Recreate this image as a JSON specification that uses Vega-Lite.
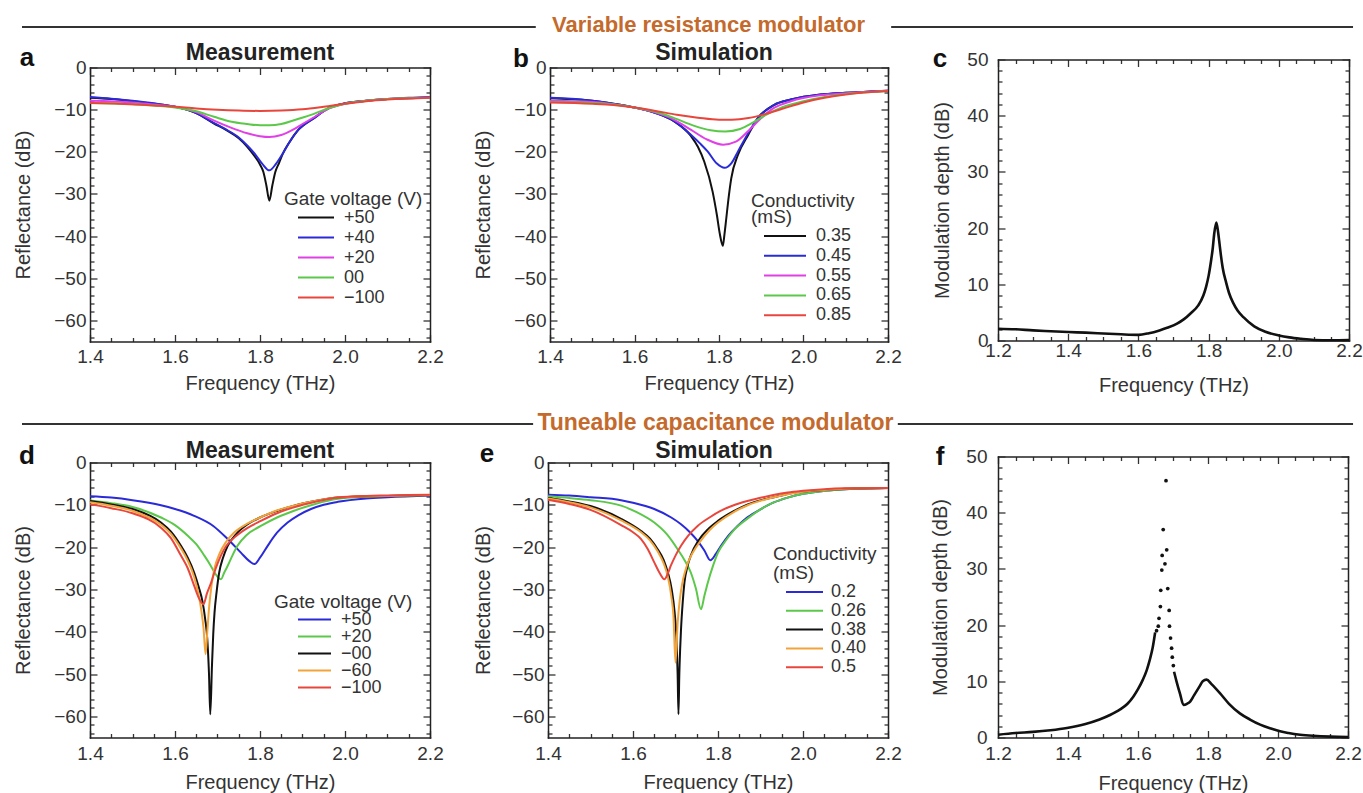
{
  "$schema": "https://vega.github.io/schema/vega-lite/v6.json",
  "padding": {"left": 13, "top": 7, "right": 0, "bottom": 0},
  "autosize": {"type": "pad"},
  "background": "white",
  "datasets": {
    "a": [
      {"f":1.4,"R":-7.2,"s":"+50"},{"f":1.45,"R":-7.5,"s":"+50"},{"f":1.5,"R":-8.0,"s":"+50"},{"f":1.55,"R":-8.6,"s":"+50"},{"f":1.6,"R":-9.3,"s":"+50"},{"f":1.65,"R":-10.8,"s":"+50"},{"f":1.692,"R":-13.3,"s":"+50"},{"f":1.72,"R":-14.8,"s":"+50"},{"f":1.75,"R":-16.8,"s":"+50"},{"f":1.77,"R":-18.8,"s":"+50"},{"f":1.787,"R":-21.0,"s":"+50"},{"f":1.8,"R":-23.0,"s":"+50"},{"f":1.808,"R":-24.8,"s":"+50"},{"f":1.815,"R":-28.0,"s":"+50"},{"f":1.822,"R":-31.6,"s":"+50"},{"f":1.829,"R":-28.0,"s":"+50"},{"f":1.836,"R":-24.8,"s":"+50"},{"f":1.845,"R":-22.6,"s":"+50"},{"f":1.853,"R":-20.6,"s":"+50"},{"f":1.87,"R":-17.6,"s":"+50"},{"f":1.89,"R":-14.8,"s":"+50"},{"f":1.927,"R":-12.0,"s":"+50"},{"f":1.963,"R":-9.6,"s":"+50"},{"f":2.0,"R":-8.5,"s":"+50"},{"f":2.05,"R":-7.9,"s":"+50"},{"f":2.1,"R":-7.5,"s":"+50"},{"f":2.15,"R":-7.3,"s":"+50"},{"f":2.2,"R":-7.2,"s":"+50"},
      {"f":1.4,"R":-7.0,"s":"+40"},{"f":1.45,"R":-7.4,"s":"+40"},{"f":1.5,"R":-7.9,"s":"+40"},{"f":1.55,"R":-8.5,"s":"+40"},{"f":1.6,"R":-9.3,"s":"+40"},{"f":1.65,"R":-10.8,"s":"+40"},{"f":1.692,"R":-13.2,"s":"+40"},{"f":1.72,"R":-14.7,"s":"+40"},{"f":1.75,"R":-16.6,"s":"+40"},{"f":1.77,"R":-18.5,"s":"+40"},{"f":1.787,"R":-20.4,"s":"+40"},{"f":1.805,"R":-22.8,"s":"+40"},{"f":1.822,"R":-24.4,"s":"+40"},{"f":1.838,"R":-22.8,"s":"+40"},{"f":1.853,"R":-20.5,"s":"+40"},{"f":1.87,"R":-17.6,"s":"+40"},{"f":1.89,"R":-14.8,"s":"+40"},{"f":1.927,"R":-12.0,"s":"+40"},{"f":1.963,"R":-9.6,"s":"+40"},{"f":2.0,"R":-8.5,"s":"+40"},{"f":2.05,"R":-7.9,"s":"+40"},{"f":2.1,"R":-7.5,"s":"+40"},{"f":2.15,"R":-7.2,"s":"+40"},{"f":2.2,"R":-7.0,"s":"+40"},
      {"f":1.4,"R":-7.9,"s":"+20"},{"f":1.5,"R":-8.3,"s":"+20"},{"f":1.55,"R":-8.8,"s":"+20"},{"f":1.6,"R":-9.3,"s":"+20"},{"f":1.65,"R":-10.6,"s":"+20"},{"f":1.692,"R":-12.6,"s":"+20"},{"f":1.73,"R":-14.2,"s":"+20"},{"f":1.77,"R":-15.6,"s":"+20"},{"f":1.8,"R":-16.3,"s":"+20"},{"f":1.822,"R":-16.5,"s":"+20"},{"f":1.85,"R":-16.0,"s":"+20"},{"f":1.88,"R":-14.6,"s":"+20"},{"f":1.9,"R":-13.4,"s":"+20"},{"f":1.927,"R":-11.8,"s":"+20"},{"f":1.963,"R":-9.7,"s":"+20"},{"f":2.0,"R":-8.6,"s":"+20"},{"f":2.05,"R":-7.9,"s":"+20"},{"f":2.1,"R":-7.5,"s":"+20"},{"f":2.2,"R":-7.2,"s":"+20"},
      {"f":1.4,"R":-8.4,"s":"00"},{"f":1.5,"R":-8.7,"s":"00"},{"f":1.55,"R":-9.0,"s":"00"},{"f":1.6,"R":-9.5,"s":"00"},{"f":1.65,"R":-10.4,"s":"00"},{"f":1.692,"R":-11.7,"s":"00"},{"f":1.73,"R":-12.8,"s":"00"},{"f":1.77,"R":-13.4,"s":"00"},{"f":1.8,"R":-13.7,"s":"00"},{"f":1.822,"R":-13.7,"s":"00"},{"f":1.85,"R":-13.4,"s":"00"},{"f":1.88,"R":-12.5,"s":"00"},{"f":1.927,"R":-11.0,"s":"00"},{"f":1.963,"R":-9.6,"s":"00"},{"f":2.0,"R":-8.6,"s":"00"},{"f":2.05,"R":-7.9,"s":"00"},{"f":2.1,"R":-7.5,"s":"00"},{"f":2.2,"R":-7.2,"s":"00"},
      {"f":1.4,"R":-8.4,"s":"−100"},{"f":1.5,"R":-8.7,"s":"−100"},{"f":1.55,"R":-9.0,"s":"−100"},{"f":1.6,"R":-9.3,"s":"−100"},{"f":1.65,"R":-9.7,"s":"−100"},{"f":1.7,"R":-10.0,"s":"−100"},{"f":1.75,"R":-10.2,"s":"−100"},{"f":1.8,"R":-10.3,"s":"−100"},{"f":1.85,"R":-10.2,"s":"−100"},{"f":1.9,"R":-9.9,"s":"−100"},{"f":1.95,"R":-9.3,"s":"−100"},{"f":2.0,"R":-8.6,"s":"−100"},{"f":2.05,"R":-8.0,"s":"−100"},{"f":2.1,"R":-7.6,"s":"−100"},{"f":2.2,"R":-7.2,"s":"−100"}
    ],
    "b": [
      {"f":1.4,"R":-7.3,"s":"0.35"},{"f":1.45,"R":-7.5,"s":"0.35"},{"f":1.5,"R":-7.9,"s":"0.35"},{"f":1.55,"R":-8.6,"s":"0.35"},{"f":1.6,"R":-9.5,"s":"0.35"},{"f":1.65,"R":-10.8,"s":"0.35"},{"f":1.694,"R":-12.8,"s":"0.35"},{"f":1.734,"R":-16.3,"s":"0.35"},{"f":1.75,"R":-18.8,"s":"0.35"},{"f":1.765,"R":-22.3,"s":"0.35"},{"f":1.785,"R":-29.5,"s":"0.35"},{"f":1.795,"R":-35.0,"s":"0.35"},{"f":1.802,"R":-39.5,"s":"0.35"},{"f":1.809,"R":-42.3,"s":"0.35"},{"f":1.813,"R":-39.5,"s":"0.35"},{"f":1.817,"R":-36.0,"s":"0.35"},{"f":1.822,"R":-31.5,"s":"0.35"},{"f":1.829,"R":-26.3,"s":"0.35"},{"f":1.845,"R":-20.7,"s":"0.35"},{"f":1.869,"R":-16.0,"s":"0.35"},{"f":1.892,"R":-12.0,"s":"0.35"},{"f":1.93,"R":-8.9,"s":"0.35"},{"f":1.97,"R":-7.6,"s":"0.35"},{"f":2.04,"R":-6.4,"s":"0.35"},{"f":2.1,"R":-6.0,"s":"0.35"},{"f":2.2,"R":-5.5,"s":"0.35"},
      {"f":1.4,"R":-7.2,"s":"0.45"},{"f":1.45,"R":-7.4,"s":"0.45"},{"f":1.5,"R":-7.9,"s":"0.45"},{"f":1.55,"R":-8.6,"s":"0.45"},{"f":1.6,"R":-9.5,"s":"0.45"},{"f":1.65,"R":-10.8,"s":"0.45"},{"f":1.694,"R":-12.7,"s":"0.45"},{"f":1.734,"R":-16.0,"s":"0.45"},{"f":1.755,"R":-18.0,"s":"0.45"},{"f":1.773,"R":-19.9,"s":"0.45"},{"f":1.795,"R":-22.8,"s":"0.45"},{"f":1.813,"R":-23.8,"s":"0.45"},{"f":1.83,"R":-22.6,"s":"0.45"},{"f":1.845,"R":-19.9,"s":"0.45"},{"f":1.869,"R":-15.6,"s":"0.45"},{"f":1.892,"R":-12.0,"s":"0.45"},{"f":1.93,"R":-8.9,"s":"0.45"},{"f":1.97,"R":-7.6,"s":"0.45"},{"f":2.04,"R":-6.4,"s":"0.45"},{"f":2.1,"R":-6.0,"s":"0.45"},{"f":2.2,"R":-5.5,"s":"0.45"},
      {"f":1.4,"R":-7.9,"s":"0.55"},{"f":1.5,"R":-8.2,"s":"0.55"},{"f":1.55,"R":-8.7,"s":"0.55"},{"f":1.6,"R":-9.5,"s":"0.55"},{"f":1.65,"R":-10.7,"s":"0.55"},{"f":1.694,"R":-12.4,"s":"0.55"},{"f":1.734,"R":-14.8,"s":"0.55"},{"f":1.77,"R":-17.0,"s":"0.55"},{"f":1.81,"R":-18.3,"s":"0.55"},{"f":1.84,"R":-17.6,"s":"0.55"},{"f":1.87,"R":-15.0,"s":"0.55"},{"f":1.9,"R":-12.0,"s":"0.55"},{"f":1.93,"R":-9.6,"s":"0.55"},{"f":1.97,"R":-8.0,"s":"0.55"},{"f":2.04,"R":-6.6,"s":"0.55"},{"f":2.1,"R":-6.1,"s":"0.55"},{"f":2.2,"R":-5.5,"s":"0.55"},
      {"f":1.4,"R":-8.2,"s":"0.65"},{"f":1.5,"R":-8.4,"s":"0.65"},{"f":1.55,"R":-8.8,"s":"0.65"},{"f":1.6,"R":-9.5,"s":"0.65"},{"f":1.65,"R":-10.5,"s":"0.65"},{"f":1.694,"R":-12.0,"s":"0.65"},{"f":1.74,"R":-13.8,"s":"0.65"},{"f":1.78,"R":-14.9,"s":"0.65"},{"f":1.815,"R":-15.2,"s":"0.65"},{"f":1.85,"R":-14.6,"s":"0.65"},{"f":1.88,"R":-13.1,"s":"0.65"},{"f":1.91,"R":-11.3,"s":"0.65"},{"f":1.95,"R":-9.4,"s":"0.65"},{"f":2.0,"R":-8.0,"s":"0.65"},{"f":2.05,"R":-7.0,"s":"0.65"},{"f":2.1,"R":-6.3,"s":"0.65"},{"f":2.2,"R":-5.6,"s":"0.65"},
      {"f":1.4,"R":-8.3,"s":"0.85"},{"f":1.5,"R":-8.6,"s":"0.85"},{"f":1.55,"R":-8.9,"s":"0.85"},{"f":1.6,"R":-9.5,"s":"0.85"},{"f":1.65,"R":-10.3,"s":"0.85"},{"f":1.7,"R":-11.2,"s":"0.85"},{"f":1.75,"R":-11.9,"s":"0.85"},{"f":1.8,"R":-12.4,"s":"0.85"},{"f":1.83,"R":-12.4,"s":"0.85"},{"f":1.87,"R":-12.0,"s":"0.85"},{"f":1.9,"R":-11.3,"s":"0.85"},{"f":1.95,"R":-9.8,"s":"0.85"},{"f":2.0,"R":-8.3,"s":"0.85"},{"f":2.05,"R":-7.2,"s":"0.85"},{"f":2.1,"R":-6.4,"s":"0.85"},{"f":2.2,"R":-5.6,"s":"0.85"}
    ],
    "c": [
      {"f":1.2,"M":2.1},{"f":1.25,"M":2.0},{"f":1.3,"M":1.8},{"f":1.35,"M":1.65},{"f":1.4,"M":1.5},{"f":1.45,"M":1.4},{"f":1.5,"M":1.25},{"f":1.55,"M":1.1},{"f":1.6,"M":1.0},{"f":1.63,"M":1.3},{"f":1.66,"M":1.8},{"f":1.684,"M":2.3},{"f":1.71,"M":3.0},{"f":1.73,"M":3.8},{"f":1.75,"M":4.9},{"f":1.77,"M":6.2},{"f":1.785,"M":8.0},{"f":1.793,"M":9.6},{"f":1.8,"M":11.5},{"f":1.807,"M":14.2},{"f":1.812,"M":16.5},{"f":1.816,"M":19.0},{"f":1.822,"M":21.0},{"f":1.827,"M":19.3},{"f":1.83,"M":17.8},{"f":1.835,"M":15.2},{"f":1.84,"M":13.0},{"f":1.85,"M":10.3},{"f":1.858,"M":8.5},{"f":1.87,"M":6.7},{"f":1.883,"M":5.3},{"f":1.9,"M":4.1},{"f":1.93,"M":2.5},{"f":1.96,"M":1.6},{"f":2.0,"M":0.9},{"f":2.03,"M":0.55},{"f":2.063,"M":0.3},{"f":2.1,"M":0.1},{"f":2.15,"M":0.05},{"f":2.2,"M":0.1}
    ],
    "d": [
      {"f":1.4,"R":-8.0,"s":"+50"},{"f":1.45,"R":-8.3,"s":"+50"},{"f":1.5,"R":-8.9,"s":"+50"},{"f":1.567,"R":-10.1,"s":"+50"},{"f":1.6,"R":-11.0,"s":"+50"},{"f":1.645,"R":-12.6,"s":"+50"},{"f":1.69,"R":-15.0,"s":"+50"},{"f":1.724,"R":-18.1,"s":"+50"},{"f":1.755,"R":-21.3,"s":"+50"},{"f":1.775,"R":-23.3,"s":"+50"},{"f":1.787,"R":-24.0,"s":"+50"},{"f":1.8,"R":-22.5,"s":"+50"},{"f":1.818,"R":-19.7,"s":"+50"},{"f":1.84,"R":-16.6,"s":"+50"},{"f":1.865,"R":-14.2,"s":"+50"},{"f":1.89,"R":-12.5,"s":"+50"},{"f":1.92,"R":-11.0,"s":"+50"},{"f":1.95,"R":-10.0,"s":"+50"},{"f":1.983,"R":-9.3,"s":"+50"},{"f":2.05,"R":-8.5,"s":"+50"},{"f":2.1,"R":-8.2,"s":"+50"},{"f":2.2,"R":-7.8,"s":"+50"},
      {"f":1.4,"R":-9.0,"s":"+20"},{"f":1.45,"R":-9.6,"s":"+20"},{"f":1.5,"R":-10.5,"s":"+20"},{"f":1.567,"R":-13.0,"s":"+20"},{"f":1.6,"R":-14.8,"s":"+20"},{"f":1.63,"R":-17.3,"s":"+20"},{"f":1.65,"R":-19.3,"s":"+20"},{"f":1.669,"R":-22.0,"s":"+20"},{"f":1.683,"R":-24.2,"s":"+20"},{"f":1.693,"R":-26.0,"s":"+20"},{"f":1.708,"R":-27.6,"s":"+20"},{"f":1.716,"R":-26.0,"s":"+20"},{"f":1.724,"R":-24.4,"s":"+20"},{"f":1.735,"R":-22.0,"s":"+20"},{"f":1.747,"R":-19.7,"s":"+20"},{"f":1.77,"R":-17.0,"s":"+20"},{"f":1.802,"R":-15.0,"s":"+20"},{"f":1.84,"R":-13.0,"s":"+20"},{"f":1.88,"R":-11.4,"s":"+20"},{"f":1.93,"R":-9.8,"s":"+20"},{"f":1.983,"R":-8.6,"s":"+20"},{"f":2.05,"R":-8.1,"s":"+20"},{"f":2.1,"R":-7.9,"s":"+20"},{"f":2.2,"R":-7.7,"s":"+20"},
      {"f":1.4,"R":-9.1,"s":"−00"},{"f":1.45,"R":-9.9,"s":"−00"},{"f":1.5,"R":-11.0,"s":"−00"},{"f":1.567,"R":-14.2,"s":"−00"},{"f":1.59,"R":-16.3,"s":"−00"},{"f":1.614,"R":-19.7,"s":"−00"},{"f":1.63,"R":-22.5,"s":"−00"},{"f":1.645,"R":-26.0,"s":"−00"},{"f":1.656,"R":-29.5,"s":"−00"},{"f":1.665,"R":-33.0,"s":"−00"},{"f":1.671,"R":-37.0,"s":"−00"},{"f":1.676,"R":-41.8,"s":"−00"},{"f":1.68,"R":-50.0,"s":"−00"},{"f":1.683,"R":-59.5,"s":"−00"},{"f":1.687,"R":-48.0,"s":"−00"},{"f":1.69,"R":-40.5,"s":"−00"},{"f":1.693,"R":-35.5,"s":"−00"},{"f":1.698,"R":-30.5,"s":"−00"},{"f":1.704,"R":-26.0,"s":"−00"},{"f":1.713,"R":-22.5,"s":"−00"},{"f":1.724,"R":-19.7,"s":"−00"},{"f":1.745,"R":-16.8,"s":"−00"},{"f":1.771,"R":-14.6,"s":"−00"},{"f":1.8,"R":-13.0,"s":"−00"},{"f":1.841,"R":-11.4,"s":"−00"},{"f":1.88,"R":-10.2,"s":"−00"},{"f":1.92,"R":-9.3,"s":"−00"},{"f":1.983,"R":-8.3,"s":"−00"},{"f":2.05,"R":-8.0,"s":"−00"},{"f":2.1,"R":-7.9,"s":"−00"},{"f":2.2,"R":-7.7,"s":"−00"},
      {"f":1.4,"R":-9.4,"s":"−60"},{"f":1.45,"R":-10.2,"s":"−60"},{"f":1.5,"R":-11.4,"s":"−60"},{"f":1.567,"R":-14.7,"s":"−60"},{"f":1.59,"R":-16.8,"s":"−60"},{"f":1.614,"R":-20.3,"s":"−60"},{"f":1.63,"R":-23.2,"s":"−60"},{"f":1.645,"R":-27.0,"s":"−60"},{"f":1.655,"R":-31.0,"s":"−60"},{"f":1.662,"R":-35.0,"s":"−60"},{"f":1.667,"R":-39.0,"s":"−60"},{"f":1.672,"R":-45.3,"s":"−60"},{"f":1.676,"R":-40.0,"s":"−60"},{"f":1.68,"R":-34.5,"s":"−60"},{"f":1.686,"R":-29.0,"s":"−60"},{"f":1.693,"R":-25.0,"s":"−60"},{"f":1.705,"R":-21.5,"s":"−60"},{"f":1.72,"R":-18.8,"s":"−60"},{"f":1.74,"R":-16.5,"s":"−60"},{"f":1.771,"R":-14.4,"s":"−60"},{"f":1.8,"R":-13.0,"s":"−60"},{"f":1.841,"R":-11.3,"s":"−60"},{"f":1.88,"R":-10.2,"s":"−60"},{"f":1.92,"R":-9.3,"s":"−60"},{"f":1.983,"R":-8.3,"s":"−60"},{"f":2.05,"R":-8.0,"s":"−60"},{"f":2.1,"R":-7.9,"s":"−60"},{"f":2.2,"R":-7.7,"s":"−60"},
      {"f":1.4,"R":-9.9,"s":"−100"},{"f":1.45,"R":-10.8,"s":"−100"},{"f":1.5,"R":-12.0,"s":"−100"},{"f":1.567,"R":-15.4,"s":"−100"},{"f":1.59,"R":-17.8,"s":"−100"},{"f":1.614,"R":-22.0,"s":"−100"},{"f":1.63,"R":-25.0,"s":"−100"},{"f":1.645,"R":-29.1,"s":"−100"},{"f":1.655,"R":-31.8,"s":"−100"},{"f":1.667,"R":-33.5,"s":"−100"},{"f":1.675,"R":-31.0,"s":"−100"},{"f":1.685,"R":-28.4,"s":"−100"},{"f":1.696,"R":-25.0,"s":"−100"},{"f":1.708,"R":-22.0,"s":"−100"},{"f":1.72,"R":-19.8,"s":"−100"},{"f":1.74,"R":-17.7,"s":"−100"},{"f":1.77,"R":-15.5,"s":"−100"},{"f":1.802,"R":-13.8,"s":"−100"},{"f":1.84,"R":-12.0,"s":"−100"},{"f":1.88,"R":-10.6,"s":"−100"},{"f":1.93,"R":-9.3,"s":"−100"},{"f":1.983,"R":-8.3,"s":"−100"},{"f":2.05,"R":-7.9,"s":"−100"},{"f":2.1,"R":-7.8,"s":"−100"},{"f":2.2,"R":-7.6,"s":"−100"}
    ],
    "e": [
      {"f":1.4,"R":-7.6,"s":"0.2"},{"f":1.45,"R":-7.8,"s":"0.2"},{"f":1.5,"R":-8.2,"s":"0.2"},{"f":1.572,"R":-8.9,"s":"0.2"},{"f":1.6,"R":-9.5,"s":"0.2"},{"f":1.65,"R":-11.0,"s":"0.2"},{"f":1.69,"R":-13.0,"s":"0.2"},{"f":1.713,"R":-14.6,"s":"0.2"},{"f":1.735,"R":-16.6,"s":"0.2"},{"f":1.752,"R":-18.5,"s":"0.2"},{"f":1.768,"R":-20.8,"s":"0.2"},{"f":1.782,"R":-23.1,"s":"0.2"},{"f":1.795,"R":-21.6,"s":"0.2"},{"f":1.807,"R":-19.7,"s":"0.2"},{"f":1.825,"R":-17.2,"s":"0.2"},{"f":1.846,"R":-15.0,"s":"0.2"},{"f":1.87,"R":-12.9,"s":"0.2"},{"f":1.901,"R":-11.0,"s":"0.2"},{"f":1.93,"R":-9.5,"s":"0.2"},{"f":1.964,"R":-8.3,"s":"0.2"},{"f":2.0,"R":-7.4,"s":"0.2"},{"f":2.05,"R":-6.7,"s":"0.2"},{"f":2.1,"R":-6.3,"s":"0.2"},{"f":2.2,"R":-6.0,"s":"0.2"},
      {"f":1.4,"R":-8.0,"s":"0.26"},{"f":1.45,"R":-8.4,"s":"0.26"},{"f":1.5,"R":-8.9,"s":"0.26"},{"f":1.572,"R":-10.2,"s":"0.26"},{"f":1.61,"R":-11.8,"s":"0.26"},{"f":1.65,"R":-14.2,"s":"0.26"},{"f":1.68,"R":-17.0,"s":"0.26"},{"f":1.705,"R":-20.5,"s":"0.26"},{"f":1.722,"R":-23.2,"s":"0.26"},{"f":1.736,"R":-26.0,"s":"0.26"},{"f":1.748,"R":-29.8,"s":"0.26"},{"f":1.76,"R":-34.7,"s":"0.26"},{"f":1.768,"R":-31.5,"s":"0.26"},{"f":1.776,"R":-28.4,"s":"0.26"},{"f":1.788,"R":-24.5,"s":"0.26"},{"f":1.8,"R":-21.3,"s":"0.26"},{"f":1.82,"R":-18.2,"s":"0.26"},{"f":1.839,"R":-15.8,"s":"0.26"},{"f":1.87,"R":-13.2,"s":"0.26"},{"f":1.901,"R":-11.0,"s":"0.26"},{"f":1.93,"R":-9.5,"s":"0.26"},{"f":1.964,"R":-8.3,"s":"0.26"},{"f":2.0,"R":-7.4,"s":"0.26"},{"f":2.05,"R":-6.7,"s":"0.26"},{"f":2.1,"R":-6.3,"s":"0.26"},{"f":2.2,"R":-6.0,"s":"0.26"},
      {"f":1.4,"R":-8.4,"s":"0.38"},{"f":1.45,"R":-9.2,"s":"0.38"},{"f":1.5,"R":-10.3,"s":"0.38"},{"f":1.572,"R":-13.3,"s":"0.38"},{"f":1.619,"R":-16.2,"s":"0.38"},{"f":1.64,"R":-18.0,"s":"0.38"},{"f":1.658,"R":-20.5,"s":"0.38"},{"f":1.672,"R":-23.0,"s":"0.38"},{"f":1.682,"R":-26.0,"s":"0.38"},{"f":1.691,"R":-30.0,"s":"0.38"},{"f":1.698,"R":-35.5,"s":"0.38"},{"f":1.702,"R":-41.0,"s":"0.38"},{"f":1.705,"R":-50.0,"s":"0.38"},{"f":1.707,"R":-59.5,"s":"0.38"},{"f":1.709,"R":-50.0,"s":"0.38"},{"f":1.711,"R":-44.0,"s":"0.38"},{"f":1.713,"R":-39.4,"s":"0.38"},{"f":1.717,"R":-33.0,"s":"0.38"},{"f":1.721,"R":-28.4,"s":"0.38"},{"f":1.728,"R":-24.6,"s":"0.38"},{"f":1.736,"R":-22.0,"s":"0.38"},{"f":1.755,"R":-18.3,"s":"0.38"},{"f":1.776,"R":-15.8,"s":"0.38"},{"f":1.8,"R":-13.8,"s":"0.38"},{"f":1.839,"R":-11.4,"s":"0.38"},{"f":1.87,"R":-9.9,"s":"0.38"},{"f":1.909,"R":-8.7,"s":"0.38"},{"f":1.95,"R":-7.8,"s":"0.38"},{"f":1.98,"R":-7.1,"s":"0.38"},{"f":2.05,"R":-6.5,"s":"0.38"},{"f":2.1,"R":-6.2,"s":"0.38"},{"f":2.2,"R":-6.0,"s":"0.38"},
      {"f":1.4,"R":-8.5,"s":"0.40"},{"f":1.45,"R":-9.4,"s":"0.40"},{"f":1.5,"R":-10.6,"s":"0.40"},{"f":1.572,"R":-13.7,"s":"0.40"},{"f":1.619,"R":-16.5,"s":"0.40"},{"f":1.64,"R":-18.4,"s":"0.40"},{"f":1.658,"R":-21.0,"s":"0.40"},{"f":1.672,"R":-23.8,"s":"0.40"},{"f":1.682,"R":-27.0,"s":"0.40"},{"f":1.69,"R":-31.5,"s":"0.40"},{"f":1.695,"R":-36.0,"s":"0.40"},{"f":1.7,"R":-47.3,"s":"0.40"},{"f":1.705,"R":-38.0,"s":"0.40"},{"f":1.71,"R":-32.5,"s":"0.40"},{"f":1.716,"R":-28.5,"s":"0.40"},{"f":1.722,"R":-26.0,"s":"0.40"},{"f":1.73,"R":-23.5,"s":"0.40"},{"f":1.74,"R":-21.4,"s":"0.40"},{"f":1.76,"R":-18.4,"s":"0.40"},{"f":1.78,"R":-16.0,"s":"0.40"},{"f":1.8,"R":-14.2,"s":"0.40"},{"f":1.839,"R":-11.6,"s":"0.40"},{"f":1.87,"R":-10.1,"s":"0.40"},{"f":1.909,"R":-8.8,"s":"0.40"},{"f":1.95,"R":-7.8,"s":"0.40"},{"f":1.98,"R":-7.2,"s":"0.40"},{"f":2.05,"R":-6.5,"s":"0.40"},{"f":2.1,"R":-6.2,"s":"0.40"},{"f":2.2,"R":-6.0,"s":"0.40"},
      {"f":1.4,"R":-8.8,"s":"0.5"},{"f":1.45,"R":-9.8,"s":"0.5"},{"f":1.5,"R":-11.2,"s":"0.5"},{"f":1.572,"R":-14.8,"s":"0.5"},{"f":1.6,"R":-16.5,"s":"0.5"},{"f":1.619,"R":-18.1,"s":"0.5"},{"f":1.635,"R":-20.5,"s":"0.5"},{"f":1.65,"R":-23.6,"s":"0.5"},{"f":1.662,"R":-26.0,"s":"0.5"},{"f":1.674,"R":-27.6,"s":"0.5"},{"f":1.682,"R":-26.2,"s":"0.5"},{"f":1.689,"R":-24.4,"s":"0.5"},{"f":1.7,"R":-22.0,"s":"0.5"},{"f":1.713,"R":-19.7,"s":"0.5"},{"f":1.73,"R":-17.3,"s":"0.5"},{"f":1.752,"R":-15.0,"s":"0.5"},{"f":1.78,"R":-13.0,"s":"0.5"},{"f":1.807,"R":-11.4,"s":"0.5"},{"f":1.84,"R":-10.0,"s":"0.5"},{"f":1.886,"R":-8.7,"s":"0.5"},{"f":1.93,"R":-7.7,"s":"0.5"},{"f":1.964,"R":-7.1,"s":"0.5"},{"f":2.0,"R":-6.7,"s":"0.5"},{"f":2.05,"R":-6.3,"s":"0.5"},{"f":2.1,"R":-6.1,"s":"0.5"},{"f":2.2,"R":-6.0,"s":"0.5"}
    ],
    "f_curve": [
      {"f":1.2,"M":0.5,"seg":"L"},{"f":1.25,"M":0.8,"seg":"L"},{"f":1.3,"M":1.0,"seg":"L"},{"f":1.35,"M":1.3,"seg":"L"},{"f":1.397,"M":1.7,"seg":"L"},{"f":1.45,"M":2.4,"seg":"L"},{"f":1.49,"M":3.2,"seg":"L"},{"f":1.52,"M":4.0,"seg":"L"},{"f":1.549,"M":5.0,"seg":"L"},{"f":1.57,"M":6.0,"seg":"L"},{"f":1.587,"M":7.3,"seg":"L"},{"f":1.6,"M":8.6,"seg":"L"},{"f":1.614,"M":10.3,"seg":"L"},{"f":1.625,"M":12.0,"seg":"L"},{"f":1.634,"M":13.9,"seg":"L"},{"f":1.642,"M":16.0,"seg":"L"},{"f":1.649,"M":18.7,"seg":"L"},
      {"f":1.703,"M":11.7,"seg":"R"},{"f":1.71,"M":10.0,"seg":"R"},{"f":1.72,"M":7.8,"seg":"R"},{"f":1.73,"M":5.8,"seg":"R"},{"f":1.74,"M":6.0,"seg":"R"},{"f":1.749,"M":6.4,"seg":"R"},{"f":1.76,"M":7.5,"seg":"R"},{"f":1.775,"M":9.0,"seg":"R"},{"f":1.785,"M":10.0,"seg":"R"},{"f":1.796,"M":10.3,"seg":"R"},{"f":1.81,"M":9.5,"seg":"R"},{"f":1.834,"M":7.9,"seg":"R"},{"f":1.86,"M":6.0,"seg":"R"},{"f":1.891,"M":4.3,"seg":"R"},{"f":1.92,"M":3.2,"seg":"R"},{"f":1.949,"M":2.3,"seg":"R"},{"f":1.98,"M":1.6,"seg":"R"},{"f":2.006,"M":1.1,"seg":"R"},{"f":2.03,"M":0.8,"seg":"R"},{"f":2.063,"M":0.5,"seg":"R"},{"f":2.1,"M":0.3,"seg":"R"},{"f":2.15,"M":0.15,"seg":"R"},{"f":2.2,"M":0.1,"seg":"R"}
    ],
    "f_dots": [
      {"f":1.653,"M":19.0},{"f":1.658,"M":19.8},{"f":1.66,"M":21.2},{"f":1.664,"M":23.3},{"f":1.665,"M":26.2},{"f":1.668,"M":29.8},{"f":1.669,"M":32.4},{"f":1.672,"M":37.0},{"f":1.68,"M":45.7},{"f":1.682,"M":33.4},{"f":1.677,"M":30.9},{"f":1.685,"M":26.5},{"f":1.689,"M":22.6},{"f":1.69,"M":19.8},{"f":1.693,"M":17.7},{"f":1.696,"M":15.9},{"f":1.698,"M":14.3},{"f":1.701,"M":12.8}
    ],
    "blank": []
  },
  "concat": [
    {
      "width": 340, "height": 20,
      "data": {"values": [{"label": "Variable resistance modulator"}]},
      "layer": [
        {"mark": {"type": "rule", "stroke": "#333", "strokeWidth": 2},
         "encoding": {"x": {"datum": 0, "type": "quantitative", "scale": {"domain": [5.109, 30.653], "nice": false, "zero": false}, "axis": null},
                      "x2": {"datum": 38.6},
                      "y": {"datum": 0, "type": "quantitative", "scale": {"domain": [0, 1]}, "axis": null}}},
        {"mark": {"type": "rule", "stroke": "#333", "strokeWidth": 2},
         "encoding": {"x": {"datum": 65.3, "type": "quantitative"}, "x2": {"datum": 100}, "y": {"datum": 0, "type": "quantitative"}}},
        {"mark": {"type": "text", "fontSize": 22, "fontWeight": "bold", "color": "#c46a2c", "baseline": "middle", "align": "center", "dy": -2},
         "encoding": {"x": {"datum": 51.58, "type": "quantitative"}, "y": {"datum": 0, "type": "quantitative"}, "text": {"field": "label"}}}
      ]
    },
    {"width": 348, "height": 20, "data": {"name": "blank"}, "mark": {"type": "point", "opacity": 0}, "encoding": {}},
    {"width": 351, "height": 20, "data": {"name": "blank"}, "mark": {"type": "point", "opacity": 0}, "encoding": {}},
    {
      "width": 340, "height": 282,
      "title": {"text": "Measurement", "offset": -20},
      "layer": [
        {"data": {"name": "a"},
         "mark": {"type": "line", "interpolate": "monotone", "strokeWidth": 2},
         "encoding": {
           "x": {"field": "f", "type": "quantitative", "scale": {"domain": [1.4, 2.2], "nice": false, "zero": false},
                 "axis": {"orient": "bottom", "values": [1.4,1.45,1.5,1.55,1.6,1.65,1.7,1.75,1.8,1.85,1.9,1.95,2.0,2.05,2.1,2.15,2.2], "format": ".1f", "labelExpr": "abs(datum.value*5-round(datum.value*5))<0.001 ? datum.label : ''", "tickSize": {"condition": {"test": "abs(datum.value*5-round(datum.value*5))<0.001", "value": -7}, "value": -4}, "labelPadding": 13, "title": "Frequency (THz)", "titlePadding": 4}},
           "y": {"field": "R", "type": "quantitative", "scale": {"domain": [-65, 0], "nice": false, "zero": false, "range": [282, 8]},
                 "axis": {"orient": "left", "values": [-64,-62,-60,-58,-56,-54,-52,-50,-48,-46,-44,-42,-40,-38,-36,-34,-32,-30,-28,-26,-24,-22,-20,-18,-16,-14,-12,-10,-8,-6,-4,-2,0], "format": "d", "labelExpr": "abs(datum.value%10)<0.001 ? datum.label : ''", "tickSize": {"condition": {"test": "abs(datum.value%10)<0.001", "value": -7}, "value": -4}, "labelPadding": 11, "title": "Reflectance (dB)", "titlePadding": 20}},
           "color": {"field": "s", "type": "nominal",
                     "scale": {"domain": ["+50","+40","+20","00","−100"], "range": ["#111111","#2a2ad8","#e040e6","#5cc84a","#e8463c"]},
                     "legend": {"orient": "none", "legendX": 194, "legendY": 130, "title": "Gate voltage (V)", "symbolSize": 1296, "symbolOffset": 13, "labelOffset": 9, "clipHeight": 18, "rowPadding": 2, "titlePadding": 0}}
         }},
        {"data": {"name": "a"},
         "mark": {"type": "line", "opacity": 0},
         "encoding": {
           "x": {"field": "f", "type": "quantitative", "axis": {"orient": "top", "offset": -8, "values": [1.4,1.45,1.5,1.55,1.6,1.65,1.7,1.75,1.8,1.85,1.9,1.95,2.0,2.05,2.1,2.15,2.2], "labels": false, "title": null, "tickSize": {"condition": {"test": "abs(datum.value*5-round(datum.value*5))<0.001", "value": -7}, "value": -4}}},
           "y": {"field": "R", "type": "quantitative", "axis": {"orient": "right", "values": [-64,-62,-60,-58,-56,-54,-52,-50,-48,-46,-44,-42,-40,-38,-36,-34,-32,-30,-28,-26,-24,-22,-20,-18,-16,-14,-12,-10,-8,-6,-4,-2,0], "labels": false, "title": null, "tickSize": {"condition": {"test": "abs(datum.value%10)<0.001", "value": -7}, "value": -4}}}
         }},
        {"data": {"values": [{"letter": "a"}]},
         "mark": {"type": "text", "fontSize": 26, "fontWeight": "bold", "color": "#111", "align": "center", "baseline": "middle", "dx": -63, "dy": -10},
         "encoding": {"x": {"datum": 1.4, "type": "quantitative", "axis": null}, "y": {"datum": 0, "type": "quantitative", "axis": null}, "text": {"field": "letter"}}}
      ],
      "resolve": {"axis": {"x": "independent", "y": "independent"}}
    },
    {
      "width": 348, "height": 282,
      "title": {"text": "Simulation", "offset": -19},
      "layer": [
        {"data": {"name": "b"},
         "mark": {"type": "line", "interpolate": "monotone", "strokeWidth": 2},
         "encoding": {
           "x": {"field": "f", "type": "quantitative", "scale": {"domain": [1.4, 2.2], "nice": false, "zero": false, "range": [10, 348]},
                 "axis": {"orient": "bottom", "values": [1.4,1.45,1.5,1.55,1.6,1.65,1.7,1.75,1.8,1.85,1.9,1.95,2.0,2.05,2.1,2.15,2.2], "format": ".1f", "labelExpr": "abs(datum.value*5-round(datum.value*5))<0.001 ? datum.label : ''", "tickSize": {"condition": {"test": "abs(datum.value*5-round(datum.value*5))<0.001", "value": -7}, "value": -4}, "labelPadding": 13, "title": "Frequency (THz)", "titlePadding": 4}},
           "y": {"field": "R", "type": "quantitative", "scale": {"domain": [-65, 0], "nice": false, "zero": false, "range": [282, 8]},
                 "axis": {"orient": "left", "offset": -10, "values": [-64,-62,-60,-58,-56,-54,-52,-50,-48,-46,-44,-42,-40,-38,-36,-34,-32,-30,-28,-26,-24,-22,-20,-18,-16,-14,-12,-10,-8,-6,-4,-2,0], "format": "d", "labelExpr": "abs(datum.value%10)<0.001 ? datum.label : ''", "tickSize": {"condition": {"test": "abs(datum.value%10)<0.001", "value": -7}, "value": -4}, "labelPadding": 11, "title": "Reflectance (dB)", "titlePadding": 20}},
           "color": {"field": "s", "type": "nominal",
                     "scale": {"domain": ["0.35","0.45","0.55","0.65","0.85"], "range": ["#111111","#2a2ad8","#e040e6","#5cc84a","#e8463c"]},
                     "legend": {"orient": "none", "legendX": 211, "legendY": 132, "title": ["Conductivity", "(mS)"], "titleLineHeight": 16, "symbolSize": 1764, "symbolOffset": 12, "labelOffset": 9, "clipHeight": 17, "rowPadding": 0.8, "titlePadding": 1}}
         }},
        {"data": {"name": "b"},
         "mark": {"type": "line", "opacity": 0},
         "encoding": {
           "x": {"field": "f", "type": "quantitative", "axis": {"orient": "top", "offset": -8, "values": [1.4,1.45,1.5,1.55,1.6,1.65,1.7,1.75,1.8,1.85,1.9,1.95,2.0,2.05,2.1,2.15,2.2], "labels": false, "title": null, "tickSize": {"condition": {"test": "abs(datum.value*5-round(datum.value*5))<0.001", "value": -7}, "value": -4}}},
           "y": {"field": "R", "type": "quantitative", "axis": {"orient": "right", "values": [-64,-62,-60,-58,-56,-54,-52,-50,-48,-46,-44,-42,-40,-38,-36,-34,-32,-30,-28,-26,-24,-22,-20,-18,-16,-14,-12,-10,-8,-6,-4,-2,0], "labels": false, "title": null, "tickSize": {"condition": {"test": "abs(datum.value%10)<0.001", "value": -7}, "value": -4}}}
         }},
        {"data": {"values": [{"letter": "b"}]},
         "mark": {"type": "text", "fontSize": 26, "fontWeight": "bold", "color": "#111", "align": "center", "baseline": "middle", "dx": -29, "dy": -9},
         "encoding": {"x": {"datum": 1.4, "type": "quantitative", "axis": null}, "y": {"datum": 0, "type": "quantitative", "axis": null}, "text": {"field": "letter"}}}
      ],
      "resolve": {"axis": {"x": "independent", "y": "independent"}}
    },
    {
      "width": 351, "height": 281,
      "layer": [
        {"data": {"name": "c"},
         "mark": {"type": "line", "interpolate": "monotone", "strokeWidth": 2.6, "color": "#111"},
         "encoding": {
           "x": {"field": "f", "type": "quantitative", "scale": {"domain": [1.2, 2.2], "nice": false, "zero": false},
                 "axis": {"orient": "bottom", "values": [1.2,1.25,1.3,1.35,1.4,1.45,1.5,1.55,1.6,1.65,1.7,1.75,1.8,1.85,1.9,1.95,2.0,2.05,2.1,2.15,2.2], "format": ".1f", "labelExpr": "abs(datum.value*5-round(datum.value*5))<0.001 ? datum.label : ''", "tickSize": {"condition": {"test": "abs(datum.value*5-round(datum.value*5))<0.001", "value": -7}, "value": -4}, "labelPadding": 8, "title": "Frequency (THz)", "titlePadding": 12}},
           "y": {"field": "M", "type": "quantitative", "scale": {"domain": [0, 50], "nice": false, "zero": false},
                 "axis": {"orient": "left", "values": [0,2,4,6,8,10,12,14,16,18,20,22,24,26,28,30,32,34,36,38,40,42,44,46,48,50], "format": "d", "labelExpr": "abs(datum.value%10)<0.001 ? datum.label : ''", "tickSize": {"condition": {"test": "abs(datum.value%10)<0.001", "value": -7}, "value": -4}, "labelPadding": 17, "title": "Modulation depth (dB)", "titlePadding": 14}}
         }},
        {"data": {"name": "c"},
         "mark": {"type": "line", "opacity": 0},
         "encoding": {
           "x": {"field": "f", "type": "quantitative", "axis": {"orient": "top", "values": [1.2,1.25,1.3,1.35,1.4,1.45,1.5,1.55,1.6,1.65,1.7,1.75,1.8,1.85,1.9,1.95,2.0,2.05,2.1,2.15,2.2], "labels": false, "title": null, "tickSize": {"condition": {"test": "abs(datum.value*5-round(datum.value*5))<0.001", "value": -7}, "value": -4}}},
           "y": {"field": "M", "type": "quantitative", "axis": {"orient": "right", "values": [0,2,4,6,8,10,12,14,16,18,20,22,24,26,28,30,32,34,36,38,40,42,44,46,48,50], "labels": false, "title": null, "tickSize": {"condition": {"test": "abs(datum.value%10)<0.001", "value": -7}, "value": -4}}}
         }},
        {"data": {"values": [{"letter": "c"}]},
         "mark": {"type": "text", "fontSize": 26, "fontWeight": "bold", "color": "#111", "align": "center", "baseline": "middle", "dx": -58, "dy": -1},
         "encoding": {"x": {"datum": 1.2, "type": "quantitative", "axis": null}, "y": {"datum": 50, "type": "quantitative", "axis": null}, "text": {"field": "letter"}}}
      ],
      "resolve": {"axis": {"x": "independent", "y": "independent"}}
    },
    {
      "width": 340, "height": 50,
      "data": {"values": [{"label": "Tuneable capacitance modulator"}]},
      "layer": [
        {"mark": {"type": "rule", "stroke": "#333", "strokeWidth": 2},
         "encoding": {"x": {"datum": 0, "type": "quantitative", "scale": {"domain": [5.109, 30.653], "nice": false, "zero": false}, "axis": null},
                      "x2": {"datum": 38.4},
                      "y": {"datum": 0, "type": "quantitative", "scale": {"domain": [0, 1]}, "axis": null}}},
        {"mark": {"type": "rule", "stroke": "#333", "strokeWidth": 2},
         "encoding": {"x": {"datum": 65.8, "type": "quantitative"}, "x2": {"datum": 100}, "y": {"datum": 0, "type": "quantitative"}}},
        {"mark": {"type": "text", "fontSize": 23, "fontWeight": "bold", "color": "#c46a2c", "baseline": "middle", "align": "center", "dy": -1},
         "encoding": {"x": {"datum": 52.1, "type": "quantitative"}, "y": {"datum": 0, "type": "quantitative"}, "text": {"field": "label"}}}
      ]
    },
    {"width": 348, "height": 50, "data": {"name": "blank"}, "mark": {"type": "point", "opacity": 0}, "encoding": {}},
    {"width": 351, "height": 50, "data": {"name": "blank"}, "mark": {"type": "point", "opacity": 0}, "encoding": {}},
    {
      "width": 340, "height": 281,
      "title": {"text": "Measurement", "offset": -20},
      "layer": [
        {"data": {"name": "d"},
         "mark": {"type": "line", "interpolate": "monotone", "strokeWidth": 2},
         "encoding": {
           "x": {"field": "f", "type": "quantitative", "scale": {"domain": [1.4, 2.2], "nice": false, "zero": false},
                 "axis": {"orient": "bottom", "values": [1.4,1.45,1.5,1.55,1.6,1.65,1.7,1.75,1.8,1.85,1.9,1.95,2.0,2.05,2.1,2.15,2.2], "format": ".1f", "labelExpr": "abs(datum.value*5-round(datum.value*5))<0.001 ? datum.label : ''", "tickSize": {"condition": {"test": "abs(datum.value*5-round(datum.value*5))<0.001", "value": -7}, "value": -4}, "labelPadding": 14, "title": "Frequency (THz)", "titlePadding": 5.5}},
           "y": {"field": "R", "type": "quantitative", "scale": {"domain": [-65, 0], "nice": false, "zero": false, "range": [281, 6]},
                 "axis": {"orient": "left", "values": [-64,-62,-60,-58,-56,-54,-52,-50,-48,-46,-44,-42,-40,-38,-36,-34,-32,-30,-28,-26,-24,-22,-20,-18,-16,-14,-12,-10,-8,-6,-4,-2,0], "format": "d", "labelExpr": "abs(datum.value%10)<0.001 ? datum.label : ''", "tickSize": {"condition": {"test": "abs(datum.value%10)<0.001", "value": -7}, "value": -4}, "labelPadding": 11, "title": "Reflectance (dB)", "titlePadding": 20}},
           "color": {"field": "s", "type": "nominal",
                     "scale": {"domain": ["+50","+20","−00","−60","−100"], "range": ["#2a2ad8","#5cc84a","#111111","#f2a33a","#e8463c"]},
                     "legend": {"orient": "none", "legendX": 184, "legendY": 136, "title": "Gate voltage (V)", "symbolSize": 1089, "symbolOffset": 23, "labelOffset": 9, "clipHeight": 16, "rowPadding": -1.5, "titlePadding": 0}}
         }},
        {"data": {"name": "d"},
         "mark": {"type": "line", "opacity": 0},
         "encoding": {
           "x": {"field": "f", "type": "quantitative", "axis": {"orient": "top", "offset": -6, "values": [1.4,1.45,1.5,1.55,1.6,1.65,1.7,1.75,1.8,1.85,1.9,1.95,2.0,2.05,2.1,2.15,2.2], "labels": false, "title": null, "tickSize": {"condition": {"test": "abs(datum.value*5-round(datum.value*5))<0.001", "value": -7}, "value": -4}}},
           "y": {"field": "R", "type": "quantitative", "axis": {"orient": "right", "values": [-64,-62,-60,-58,-56,-54,-52,-50,-48,-46,-44,-42,-40,-38,-36,-34,-32,-30,-28,-26,-24,-22,-20,-18,-16,-14,-12,-10,-8,-6,-4,-2,0], "labels": false, "title": null, "tickSize": {"condition": {"test": "abs(datum.value%10)<0.001", "value": -7}, "value": -4}}}
         }},
        {"data": {"values": [{"letter": "d"}]},
         "mark": {"type": "text", "fontSize": 26, "fontWeight": "bold", "color": "#111", "align": "center", "baseline": "middle", "dx": -63, "dy": -7},
         "encoding": {"x": {"datum": 1.4, "type": "quantitative", "axis": null}, "y": {"datum": 0, "type": "quantitative", "axis": null}, "text": {"field": "letter"}}}
      ],
      "resolve": {"axis": {"x": "independent", "y": "independent"}}
    },
    {
      "width": 348, "height": 281,
      "title": {"text": "Simulation", "offset": -22},
      "layer": [
        {"data": {"name": "e"},
         "mark": {"type": "line", "interpolate": "monotone", "strokeWidth": 2},
         "encoding": {
           "x": {"field": "f", "type": "quantitative", "scale": {"domain": [1.4, 2.2], "nice": false, "zero": false, "range": [8, 348]},
                 "axis": {"orient": "bottom", "values": [1.4,1.45,1.5,1.55,1.6,1.65,1.7,1.75,1.8,1.85,1.9,1.95,2.0,2.05,2.1,2.15,2.2], "format": ".1f", "labelExpr": "abs(datum.value*5-round(datum.value*5))<0.001 ? datum.label : ''", "tickSize": {"condition": {"test": "abs(datum.value*5-round(datum.value*5))<0.001", "value": -7}, "value": -4}, "labelPadding": 14, "title": "Frequency (THz)", "titlePadding": 5.5}},
           "y": {"field": "R", "type": "quantitative", "scale": {"domain": [-65, 0], "nice": false, "zero": false, "range": [281, 6]},
                 "axis": {"orient": "left", "offset": -8, "values": [-64,-62,-60,-58,-56,-54,-52,-50,-48,-46,-44,-42,-40,-38,-36,-34,-32,-30,-28,-26,-24,-22,-20,-18,-16,-14,-12,-10,-8,-6,-4,-2,0], "format": "d", "labelExpr": "abs(datum.value%10)<0.001 ? datum.label : ''", "tickSize": {"condition": {"test": "abs(datum.value%10)<0.001", "value": -7}, "value": -4}, "labelPadding": 11, "title": "Reflectance (dB)", "titlePadding": 18}},
           "color": {"field": "s", "type": "nominal",
                     "scale": {"domain": ["0.2","0.26","0.38","0.40","0.5"], "range": ["#2a2ad8","#5cc84a","#111111","#f2a33a","#e8463c"]},
                     "legend": {"orient": "none", "legendX": 233, "legendY": 88, "title": ["Conductivity", "(mS)"], "titleLineHeight": 19, "symbolSize": 1369, "symbolOffset": 12, "labelOffset": 7, "clipHeight": 17, "rowPadding": -0.2, "titlePadding": 1}}
         }},
        {"data": {"name": "e"},
         "mark": {"type": "line", "opacity": 0},
         "encoding": {
           "x": {"field": "f", "type": "quantitative", "axis": {"orient": "top", "offset": -6, "values": [1.4,1.45,1.5,1.55,1.6,1.65,1.7,1.75,1.8,1.85,1.9,1.95,2.0,2.05,2.1,2.15,2.2], "labels": false, "title": null, "tickSize": {"condition": {"test": "abs(datum.value*5-round(datum.value*5))<0.001", "value": -7}, "value": -4}}},
           "y": {"field": "R", "type": "quantitative", "axis": {"orient": "right", "values": [-64,-62,-60,-58,-56,-54,-52,-50,-48,-46,-44,-42,-40,-38,-36,-34,-32,-30,-28,-26,-24,-22,-20,-18,-16,-14,-12,-10,-8,-6,-4,-2,0], "labels": false, "title": null, "tickSize": {"condition": {"test": "abs(datum.value%10)<0.001", "value": -7}, "value": -4}}}
         }},
        {"data": {"values": [{"letter": "e"}]},
         "mark": {"type": "text", "fontSize": 26, "fontWeight": "bold", "color": "#111", "align": "center", "baseline": "middle", "dx": -61, "dy": -9},
         "encoding": {"x": {"datum": 1.4, "type": "quantitative", "axis": null}, "y": {"datum": 0, "type": "quantitative", "axis": null}, "text": {"field": "letter"}}}
      ],
      "resolve": {"axis": {"x": "independent", "y": "independent"}}
    },
    {
      "width": 350, "height": 281,
      "layer": [
        {"data": {"name": "f_curve"},
         "mark": {"type": "line", "interpolate": "monotone", "strokeWidth": 2.6, "color": "#111"},
         "encoding": {
           "x": {"field": "f", "type": "quantitative", "scale": {"domain": [1.2, 2.2], "nice": false, "zero": false},
                 "axis": {"orient": "bottom", "values": [1.2,1.25,1.3,1.35,1.4,1.45,1.5,1.55,1.6,1.65,1.7,1.75,1.8,1.85,1.9,1.95,2.0,2.05,2.1,2.15,2.2], "format": ".1f", "labelExpr": "abs(datum.value*5-round(datum.value*5))<0.001 ? datum.label : ''", "tickSize": {"condition": {"test": "abs(datum.value*5-round(datum.value*5))<0.001", "value": -7}, "value": -4}, "labelPadding": 13.5, "title": "Frequency (THz)", "titlePadding": 7}},
           "y": {"field": "M", "type": "quantitative", "scale": {"domain": [0, 50], "nice": false, "zero": false},
                 "axis": {"orient": "left", "values": [0,2,4,6,8,10,12,14,16,18,20,22,24,26,28,30,32,34,36,38,40,42,44,46,48,50], "format": "d", "labelExpr": "abs(datum.value%10)<0.001 ? datum.label : ''", "tickSize": {"condition": {"test": "abs(datum.value%10)<0.001", "value": -7}, "value": -4}, "labelPadding": 18, "title": "Modulation depth (dB)", "titlePadding": 15}},
           "detail": {"field": "seg", "type": "nominal"}
         }},
        {"data": {"name": "f_dots"},
         "mark": {"type": "circle", "size": 14, "color": "#111", "opacity": 1},
         "encoding": {"x": {"field": "f", "type": "quantitative", "axis": null}, "y": {"field": "M", "type": "quantitative", "axis": null}}},
        {"data": {"name": "f_curve"},
         "mark": {"type": "line", "opacity": 0},
         "encoding": {
           "x": {"field": "f", "type": "quantitative", "axis": {"orient": "top", "values": [1.2,1.25,1.3,1.35,1.4,1.45,1.5,1.55,1.6,1.65,1.7,1.75,1.8,1.85,1.9,1.95,2.0,2.05,2.1,2.15,2.2], "labels": false, "title": null, "tickSize": {"condition": {"test": "abs(datum.value*5-round(datum.value*5))<0.001", "value": -7}, "value": -4}}},
           "y": {"field": "M", "type": "quantitative", "axis": {"orient": "right", "values": [0,2,4,6,8,10,12,14,16,18,20,22,24,26,28,30,32,34,36,38,40,42,44,46,48,50], "labels": false, "title": null, "tickSize": {"condition": {"test": "abs(datum.value%10)<0.001", "value": -7}, "value": -4}}}
         }},
        {"data": {"values": [{"letter": "f"}]},
         "mark": {"type": "text", "fontSize": 26, "fontWeight": "bold", "color": "#111", "align": "center", "baseline": "middle", "dx": -58, "dy": 0},
         "encoding": {"x": {"datum": 1.2, "type": "quantitative", "axis": null}, "y": {"datum": 50, "type": "quantitative", "axis": null}, "text": {"field": "letter"}}}
      ],
      "resolve": {"axis": {"x": "independent", "y": "independent"}}
    }
  ],
  "columns": 3,
  "spacing": {"row": 32.5, "column": 110},
  "bounds": "flush",
  "resolve": {"scale": {"color": "independent"}, "legend": {"color": "independent"}},
  "config": {
    "font": "Liberation Sans",
    "view": {"stroke": null},
    "axis": {"grid": false, "domain": true, "domainColor": "#222", "domainWidth": 1.5, "domainCap": "square", "labelFontSize": 19, "titleFontSize": 20, "titleFontWeight": "normal", "labelColor": "#333", "titleColor": "#333", "tickColor": "#333", "tickWidth": 1.3, "labelFlush": false, "labelOverlap": false, "labelBound": false},
    "legend": {"labelFontSize": 18, "titleFontSize": 19, "titleFontWeight": "normal", "labelColor": "#333", "titleColor": "#333", "padding": 0, "symbolType": "stroke", "symbolStrokeWidth": 2},
    "title": {"fontSize": 23, "fontWeight": "bold", "color": "#222", "anchor": "middle"}
  }
}
